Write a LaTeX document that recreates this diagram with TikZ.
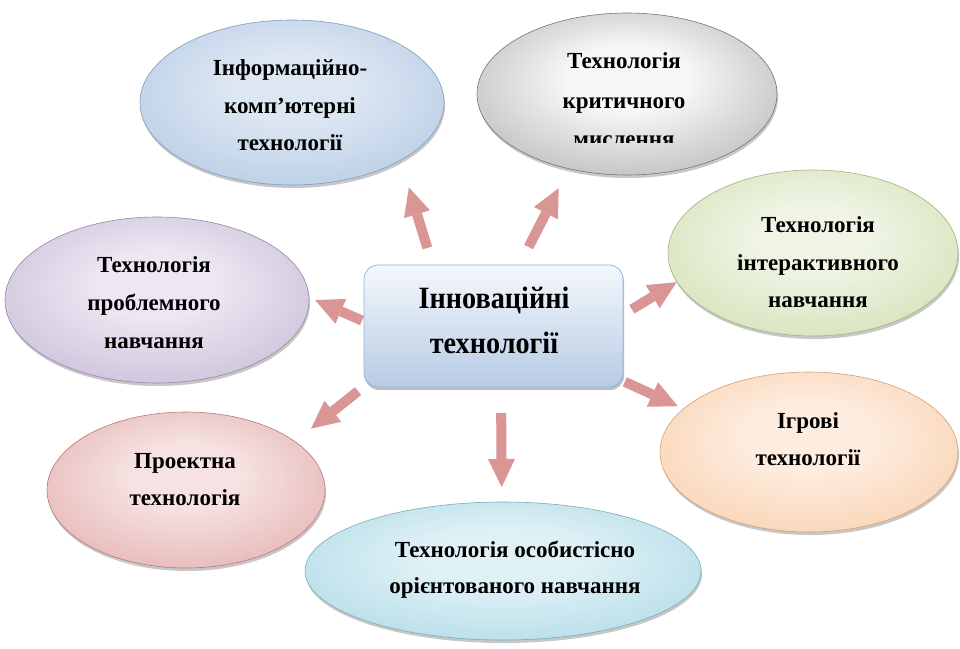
\documentclass[tikz,border=0pt]{standalone}
\usepackage{fontspec}
\setmainfont{Liberation Serif}
\usetikzlibrary{shapes.geometric,arrows.meta,shadows}
\colorlet{ellin}{white}
\colorlet{ellout}{gray}
\pgfdeclareradialshading[ellin,ellout]{ellshade}{\pgfpoint{0bp}{6bp}}{color(0bp)=(ellin); color(10bp)=(ellin); color(50bp)=(ellout)}
\definecolor{b1in}{HTML}{DDE7F3}\definecolor{b1out}{HTML}{9AB6DA}
\definecolor{g2in}{HTML}{F7F7F7}\definecolor{g2out}{HTML}{8A8A8A}
\definecolor{v3in}{HTML}{EFF4E4}\definecolor{v3out}{HTML}{BFD496}
\definecolor{p4in}{HTML}{ECE7F2}\definecolor{p4out}{HTML}{B09FC6}
\definecolor{o5in}{HTML}{FDEDE0}\definecolor{o5out}{HTML}{F8BD8C}
\definecolor{r6in}{HTML}{F6E2E2}\definecolor{r6out}{HTML}{D7908E}
\definecolor{c7in}{HTML}{E0F1F6}\definecolor{c7out}{HTML}{8FCBDC}
\definecolor{boxtop}{HTML}{F4F8FC}\definecolor{boxbot}{HTML}{B7CBE4}
\definecolor{boxline}{HTML}{95B3D7}
\definecolor{arrc}{HTML}{D99694}
\begin{document}
\begin{tikzpicture}[x=1pt,y=-1pt,
  ell/.style n args={4}{ellipse, minimum width=#1, minimum height=#2,
    inner sep=0pt, outer sep=0pt,
    /utils/exec={\colorlet{ellin}{#3}\colorlet{ellout}{#4}},
    shading=ellshade, draw=#4!85!black, line width=0.6pt,
    drop shadow={shadow xshift=1pt, shadow yshift=-3pt, opacity=0.22, fill=black}},
  txt/.style={font=\fontsize{23}{27}\selectfont\bfseries, anchor=base, inner sep=0pt},
  ctxt/.style={font=\fontsize{31}{36}\selectfont\bfseries, anchor=base, inner sep=0pt},
  cbox/.style={rectangle, rounded corners=14pt, minimum width=259pt, minimum height=122pt,
    inner sep=0pt, outer sep=0pt, top color=boxtop, bottom color=boxbot,
    draw=boxline, line width=0.8pt,
    drop shadow={shadow xshift=1pt, shadow yshift=-3pt, opacity=0.25, fill=black}},
  blk/.style={draw=arrc, line width=10pt, -{Triangle[width=27pt,length=28pt,line width=0pt]}}
]
\fill[white] (0,0) rectangle (960,648);
\useasboundingbox (0,0) rectangle (960,648);

% ellipses
\node[ell={304pt}{165pt}{b1in}{b1out}] (info) at (292,102.5) {};
\node[ell={300pt}{162pt}{g2in}{g2out}] (crit) at (627,94) {};
\node[ell={290pt}{166pt}{v3in}{v3out}] (inter) at (813,253) {};
\node[ell={304pt}{166pt}{p4in}{p4out}] (prob) at (157,300) {};
\node[ell={298pt}{160pt}{o5in}{o5out}] (games) at (809,452) {};
\node[ell={278pt}{156pt}{r6in}{r6out}] (proj) at (186,490) {};
\node[ell={396pt}{138pt}{c7in}{c7out}] (pers) at (503,571) {};

% central box
\node[cbox] (center) at (493.5,326) {};
\node[ctxt] (c1) at (494,308) {\scalebox{0.91}[1]{Інноваційні}};
\node[ctxt] (c2) at (494,353) {\scalebox{0.91}[1]{технології}};

% texts
\node[txt] (t1a) at (290,75) {Інформаційно-};
\node[txt] (t1b) at (290,113) {комп’ютерні};
\node[txt] (t1c) at (290,150) {технології};
\node[txt] (t2a) at (624,68) {Технологія};
\node[txt] (t2b) at (624,108) {критичного};
\begin{scope}
  \clip (470,120) rectangle (790,142);
  \node[txt] (t2c) at (624,146) {мислення};
\end{scope}
\node[txt] (t3a) at (818,232) {Технологія};
\node[txt] (t3b) at (818,270) {інтерактивного};
\node[txt] (t3c) at (818,307) {навчання};
\node[txt] (t4a) at (154,272) {Технологія};
\node[txt] (t4b) at (154,310) {проблемного};
\node[txt] (t4c) at (154,348) {навчання};
\node[txt] (t5a) at (808,428) {Ігрові};
\node[txt] (t5b) at (808,465) {технології};
\node[txt] (t6a) at (185,468) {Проектна};
\node[txt] (t6b) at (185,505) {технологія};
\node[txt] (t7a) at (515,557) {Технологія особистісно};
\node[txt] (t7b) at (515,593) {орієнтованого навчання};

% arrows
\draw[blk, shorten <=17.8pt, shorten >=28.4pt] (center.135) -- (info.-28.5);
\draw[blk, shorten <=20.2pt, shorten >=22pt] (center.67.5) -- (crit.-128.4);
\draw[blk, shorten <=10.4pt, shorten >=0.5pt] (center.5.64) -- (inter.-168);
\draw[blk, shorten <=2.2pt, shorten >=6.8pt] (center.178.6) -- (prob.1.1);
\draw[blk, shorten <=7.6pt, shorten >=20.6pt] (center.-155.4) -- (proj.24.5);
\draw[blk, shorten <=26pt, shorten >=15pt] (center.-83) -- (pers.91.7);
\draw[blk, shorten <=2pt, shorten >=6.3pt] (center.-23.75) -- (games.161.4);
\end{tikzpicture}
\end{document}
